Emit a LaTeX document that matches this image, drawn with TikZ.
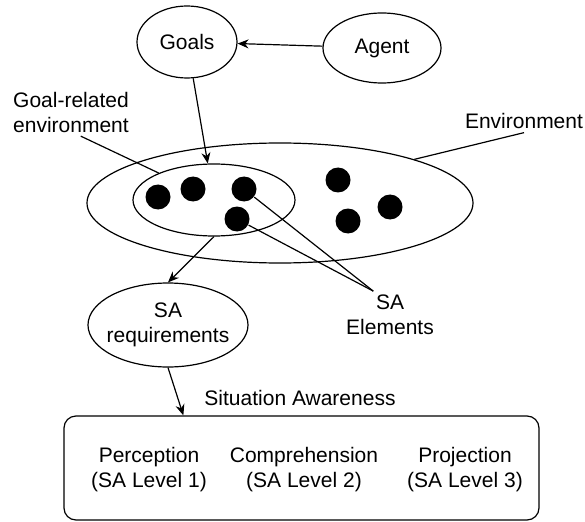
\documentclass[tikz,border=0pt]{standalone}
\usepackage{fontspec}
\setmainfont{Liberation Sans}
\usetikzlibrary{shapes.geometric,positioning,arrows.meta}

\begin{document}
\begin{tikzpicture}[x=1pt,y=-1pt,line width=1.2pt,on grid,
    font=\fontsize{21}{25}\selectfont,>={Stealth[length=11pt,width=9pt]},
    blob/.style={draw,ellipse,inner sep=0pt},
    element/.style={circle,fill,inner sep=0pt,minimum size=25pt},
    lbl/.style={align=center}]
      \useasboundingbox (0,0) rectangle (585,521);
      \node[blob,minimum width=100pt,minimum height=72pt] (goals) at (187,42) {Goals};
      \node[blob,minimum width=118pt,minimum height=70pt] (agent) [below right=6pt and 195pt of goals] {Agent};
      \node[blob,minimum width=386pt,minimum height=120pt] (env) at (280,203) {};
      \node[blob,minimum width=162pt,minimum height=72pt] (goalenv) at (214,200) {};
      \node[blob,inner xsep=-5pt,minimum width=160pt,minimum height=84pt,align=center] (sareq) at (168,325) {SA\\requirements};
      \node[draw,rounded corners=12pt,minimum width=475pt,minimum height=104pt] (sabox) at (301.5,468) {};
      % SA elements
      \node[element] (d1) at (158,197) {};
      \node[element] (d2) at (193,189) {};
      \node[element] (d3) at (244,189) {};
      \node[element] (d4) at (237,219) {};
      \node[element] (d5) at (338,180) {};
      \node[element] (d6) at (348,221) {};
      \node[element] (d7) at (390,207) {};
      % labels
      \node (salabel) at (300,398) {Situation Awareness};
      \node[lbl] (comp) at (304,470) {Comprehension\\(SA Level 2)};
      \node[lbl] (perc) [left=155pt of comp] {Perception\\(SA Level 1)};
      \node[lbl] (proj) [right=161pt of comp] {Projection\\(SA Level 3)};
      \node (envlabel) at (524,121) {Environment};
      \node[align=left] (grlabel) at (71,112) {Goal-related\\environment};
      \node[lbl] (saelem) at (390,315) {SA\\Elements};
        \path[->]
        (agent) edge (goals)
        (goals) edge (goalenv)
        (goalenv.south) edge (sareq.north)
        (sareq.south) edge (sabox.156);
        \path
        (env.18) edge (envlabel.south)
        (goalenv.154) edge (grlabel.-68)
        (d3) edge (saelem.125)
        (d4) edge (saelem.125);
    \end{tikzpicture}
\end{document}
